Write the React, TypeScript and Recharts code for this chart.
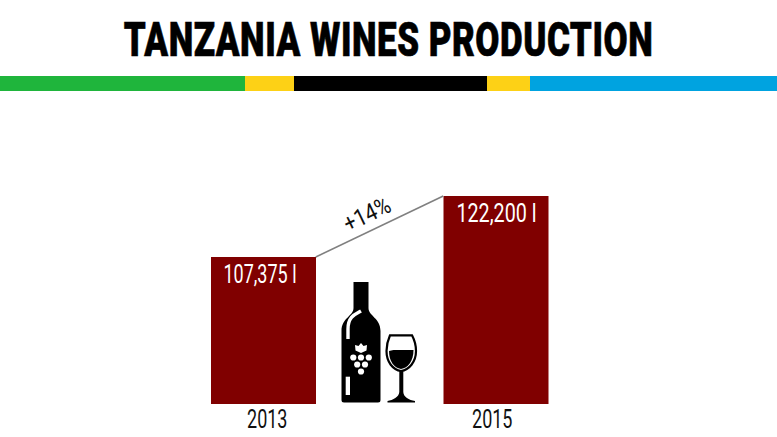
import { BarChart, Bar, XAxis, YAxis, LabelList, ReferenceLine } from "recharts";

const YEARS = ["2013", "2015"];
const LITRES = [107375, 122200];
const CHANGE_LABEL = "+14%";
const TITLE = "TANZANIA WINES PRODUCTION";

const rows = YEARS.map((year, i) => ({ year, litres: LITRES[i] }));
const FONT = 'Roboto, "Liberation Sans", sans-serif';
const BAR_WIDTH = 105;
// labels in the source sit slightly off the bar centres
const TICK_NUDGE = [4, -3.5];
const VALUE_NUDGE = [-3.5, 0.5];
const VALUE_SQUEEZE = [0.72, 0.79];

// no condensed face is installed, so text gets squeezed horizontally
function Narrow({ x, y, size, squeeze, fill = "#111", weight = 400, rotate = 0, spacing = 0, children }: any) {
  return (
    <text
      transform={`translate(${x},${y}) rotate(${rotate}) scale(${squeeze},1)`}
      textAnchor="middle"
      fontFamily={FONT}
      fontSize={size}
      fontWeight={weight}
      letterSpacing={spacing}
      fill={fill}
    >
      {children}
    </text>
  );
}

function YearTick({ x, y, payload, index }: any) {
  return (
    <Narrow x={x + TICK_NUDGE[index]} y={y + 16} size={25} squeeze={0.72}>
      {payload.value}
    </Narrow>
  );
}

function ValueLabel({ x, y, width, value, index }: any) {
  return (
    <Narrow x={x + width / 2 + VALUE_NUDGE[index]} y={y + 26} size={25} squeeze={VALUE_SQUEEZE[index]} fill="#fff">
      {`${Number(value).toLocaleString("en-US")} l`}
    </Narrow>
  );
}

// connector runs between the facing top corners of the two bars
function Connector(props: any) {
  const a = props.x1 + BAR_WIDTH / 2;
  const b = props.x2 - BAR_WIDTH / 2;
  const angle = (Math.atan2(props.y2 - props.y1, b - a) * 180) / Math.PI;
  return (
    <g>
      <line x1={a} y1={props.y1} x2={b} y2={props.y2} stroke="#808080" strokeWidth={1.6} />
      <Narrow x={(a + b) / 2 - 9} y={(props.y1 + props.y2) / 2 - 5} size={24} squeeze={0.85} rotate={angle}>
        {CHANGE_LABEL}
      </Narrow>
    </g>
  );
}

function WineIcon() {
  return (
    <svg width={777} height={437} style={{ position: "absolute", left: 0, top: 0 }}>
      <path d="M353.5 282H368.5V308C368.5 316 380.5 318 380.5 331V400Q380.5 402.5 378 402.5H344Q341.5 402.5 341.5 400V331C341.5 318 353.5 316 353.5 308Z" fill="#000" />
      <path d="M361 311C356 314 348 316 348 329V339" fill="none" stroke="#fff" strokeWidth={3.4} />
      <rect x={345.7} y={376.7} width={4.3} height={18.3} fill="#fff" />
      <path d="M361 343L363.5 346L367 345L366.5 350.5L361 353L355.5 350.5L355 345L358.5 346Z" fill="#fff" />
      <circle cx={353.3} cy={357.5} r={3.1} fill="#fff" />
      <circle cx={361} cy={357.5} r={3.1} fill="#fff" />
      <circle cx={368.8} cy={357.5} r={3.1} fill="#fff" />
      <circle cx={357.2} cy={364.5} r={3.1} fill="#fff" />
      <circle cx={365} cy={364.5} r={3.1} fill="#fff" />
      <circle cx={361} cy={371.5} r={3.1} fill="#fff" />
      <path d="M390 335.3H412C415 341 416 346 416 351C416 362 409 370 401 371C393 370 386.5 362 386.5 351C386.5 346 387.5 341 390 335.3Z" fill="none" stroke="#000" strokeWidth={2.2} />
      <path d="M393.5 350H413.5C413.5 361 408 368 401 369C394 368 389 361 389 351Z" fill="#000" />
      <path d="M399.3 370H403.3V392C403.5 397 409 400 415 401V402.5H387.5V401C393 400 399 397 399.3 392Z" fill="#000" />
    </svg>
  );
}

export default function App() {
  return (
    <div style={{ position: "absolute", left: 0, top: 0, width: 777, height: 437, background: "#fff", overflow: "hidden" }}>
      <svg width={777} height={100} style={{ position: "absolute", left: 0, top: 0 }}>
        <g stroke="#000" strokeWidth={0.7}>
          <Narrow x={388.5} y={56} size={49} squeeze={0.714} fill="#000" weight={900} spacing={0.7}>
            {TITLE}
          </Narrow>
        </g>
      </svg>
      <div style={{ position: "absolute", left: 0, top: 76, width: 777, height: 15, display: "flex" }}>
        <div style={{ width: 245, background: "#1fb53c" }} />
        <div style={{ width: 49, background: "#fdd116" }} />
        <div style={{ width: 193, background: "#000" }} />
        <div style={{ width: 43, background: "#fdd116" }} />
        <div style={{ width: 247, background: "#00a3e0" }} />
      </div>
      <BarChart
        width={777}
        height={437}
        data={rows}
        margin={{ top: 196, right: 165, bottom: 0, left: 147 }}
        style={{ position: "absolute", left: 0, top: 0 }}
      >
        <XAxis dataKey="year" axisLine={false} tickLine={false} height={33} tick={YearTick} />
        {/* the source chart's axis doesn't start at zero */}
        <YAxis hide domain={[71650, 122200]} allowDataOverflow />
        <Bar dataKey="litres" fill="#800000" barSize={BAR_WIDTH} isAnimationActive={false}>
          <LabelList dataKey="litres" content={ValueLabel} />
        </Bar>
        <ReferenceLine
          segment={[
            { x: YEARS[0], y: LITRES[0] },
            { x: YEARS[1], y: LITRES[1] },
          ]}
          ifOverflow="visible"
          shape={Connector}
        />
      </BarChart>
      <WineIcon />
    </div>
  );
}
